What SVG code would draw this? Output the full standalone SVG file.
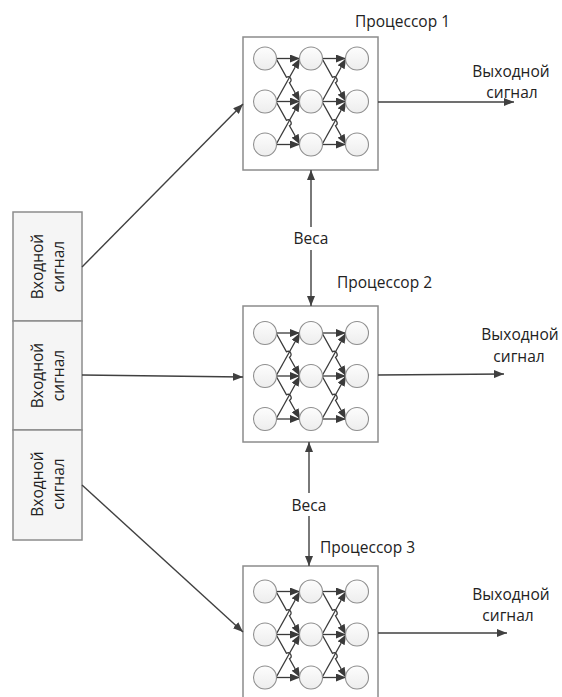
<svg xmlns="http://www.w3.org/2000/svg" xmlns:xlink="http://www.w3.org/1999/xlink" width="562" height="697" viewBox="0 0 562 697">
  <style>
    .lbl { font-family: "Open Sans", "Noto Sans", "Liberation Sans", sans-serif; font-size: 15.5px; fill: #222222; }
    .mid { text-anchor: middle; }
    .proc { fill: #ffffff; stroke: #8c8c8c; stroke-width: 1.5; }
    .inbox { fill: #f5f5f5; stroke: #8c8c8c; stroke-width: 1.5; }
    .neuron { fill: url(#neuronFill); stroke: #8f8f8f; stroke-width: 1.1; }
    .syn { fill: none; stroke: #3a3a3a; stroke-width: 1.3; marker-end: url(#synHead); }
    .wire { fill: none; stroke: #404040; stroke-width: 1.4; marker-end: url(#head); }
  </style>
  <defs>
    <linearGradient id="neuronFill" x1="0" y1="0" x2="0" y2="1">
      <stop offset="0" stop-color="#fdfdfd"/>
      <stop offset="1" stop-color="#ededed"/>
    </linearGradient>
    <marker id="head" viewBox="0 0 10 8" refX="10" refY="4" markerWidth="10" markerHeight="8" markerUnits="userSpaceOnUse" orient="auto">
      <path d="M0,0 L10,4 L0,8 Z" fill="#404040"/>
    </marker>
    <marker id="synHead" viewBox="0 0 10 8" refX="10" refY="4" markerWidth="10" markerHeight="8" markerUnits="userSpaceOnUse" orient="auto">
      <path d="M0,0 L10,4 L0,8 Z" fill="#3a3a3a"/>
    </marker>
    <!-- 3x3 network; origin at the centre of the top-left neuron -->
    <g id="net">
      <!-- layer 1 -> layer 2 -->
      <path class="syn" d="M11,0 H35"/>
      <path class="syn" d="M11,43 H35"/>
      <path class="syn" d="M11,86 H35"/>
      <path class="syn" d="M11,0 L21.5,18.8 A3,3 0 0 1 24.5,24.2 L35,43"/>
      <path class="syn" d="M11,43 L35,0"/>
      <path class="syn" d="M11,43 L21.5,61.8 A3,3 0 0 1 24.5,67.2 L35,86"/>
      <path class="syn" d="M11,86 L35,43"/>
      <!-- layer 2 -> layer 3 -->
      <path class="syn" d="M57,0 H81"/>
      <path class="syn" d="M57,43 H81"/>
      <path class="syn" d="M57,86 H81"/>
      <path class="syn" d="M57,0 L67.5,18.8 A3,3 0 0 1 70.5,24.2 L81,43"/>
      <path class="syn" d="M57,43 L81,0"/>
      <path class="syn" d="M57,43 L67.5,61.8 A3,3 0 0 1 70.5,67.2 L81,86"/>
      <path class="syn" d="M57,86 L81,43"/>
      <!-- neurons -->
      <circle class="neuron" cx="0" cy="0" r="11.5"/>
      <circle class="neuron" cx="0" cy="43" r="11.5"/>
      <circle class="neuron" cx="0" cy="86" r="11.5"/>
      <circle class="neuron" cx="46" cy="0" r="11.5"/>
      <circle class="neuron" cx="46" cy="43" r="11.5"/>
      <circle class="neuron" cx="46" cy="86" r="11.5"/>
      <circle class="neuron" cx="92" cy="0" r="11.5"/>
      <circle class="neuron" cx="92" cy="43" r="11.5"/>
      <circle class="neuron" cx="92" cy="86" r="11.5"/>
    </g>
  </defs>

  <!-- input signals -->
  <g id="input1">
    <rect class="inbox" x="13" y="212" width="69" height="109"/>
    <text class="lbl mid" transform="translate(43,266.5) rotate(-90)">Входной</text>
    <text class="lbl mid" transform="translate(64,266.5) rotate(-90)">сигнал</text>
  </g>
  <g id="input2">
    <rect class="inbox" x="13" y="321" width="69" height="109"/>
    <text class="lbl mid" transform="translate(43,375.5) rotate(-90)">Входной</text>
    <text class="lbl mid" transform="translate(64,375.5) rotate(-90)">сигнал</text>
  </g>
  <g id="input3">
    <rect class="inbox" x="13" y="430" width="69" height="110"/>
    <text class="lbl mid" transform="translate(43,484) rotate(-90)">Входной</text>
    <text class="lbl mid" transform="translate(64,484) rotate(-90)">сигнал</text>
  </g>

  <!-- processors -->
  <g id="processor1">
    <rect class="proc" x="243" y="37" width="135" height="133"/>
    <use xlink:href="#net" transform="translate(265,58.5)"/>
    <text class="lbl" x="355" y="27">Процессор 1</text>
  </g>
  <g id="processor2">
    <rect class="proc" x="243" y="306" width="135" height="136"/>
    <use xlink:href="#net" transform="translate(265,333)"/>
    <text class="lbl" x="337" y="288">Процессор 2</text>
  </g>
  <g id="processor3">
    <rect class="proc" x="243" y="566" width="135" height="140"/>
    <use xlink:href="#net" transform="translate(265,591.5)"/>
    <text class="lbl" x="320" y="553">Процессор 3</text>
  </g>

  <!-- weights labels -->
  <g id="weights1">
    <text class="lbl mid" x="311" y="244">Веса</text>
  </g>
  <g id="weights2">
    <text class="lbl mid" x="309" y="511">Веса</text>
  </g>

  <!-- outputs -->
  <g id="output1">
    <text class="lbl mid" x="511" y="77">Выходной</text>
    <text class="lbl mid" x="512" y="98">сигнал</text>
  </g>
  <g id="output2">
    <text class="lbl mid" x="520" y="340">Выходной</text>
    <text class="lbl mid" x="519" y="362">сигнал</text>
  </g>
  <g id="output3">
    <text class="lbl mid" x="511" y="600">Выходной</text>
    <text class="lbl mid" x="508" y="621">сигнал</text>
  </g>

  <!-- connectors -->
  <g id="connectors">
    <path class="wire" d="M82,267 L243,104"/>
    <path class="wire" d="M82,375 L243,377"/>
    <path class="wire" d="M82,485 L243,632"/>
    <path class="wire" d="M378,102 H514"/>
    <path class="wire" d="M378,375 L504,374"/>
    <path class="wire" d="M378,633 H507"/>
    <path class="wire" d="M311,227 V170"/>
    <path class="wire" d="M311,250 V306"/>
    <path class="wire" d="M309,493 V442"/>
    <path class="wire" d="M309,516 V566"/>
  </g>
</svg>
